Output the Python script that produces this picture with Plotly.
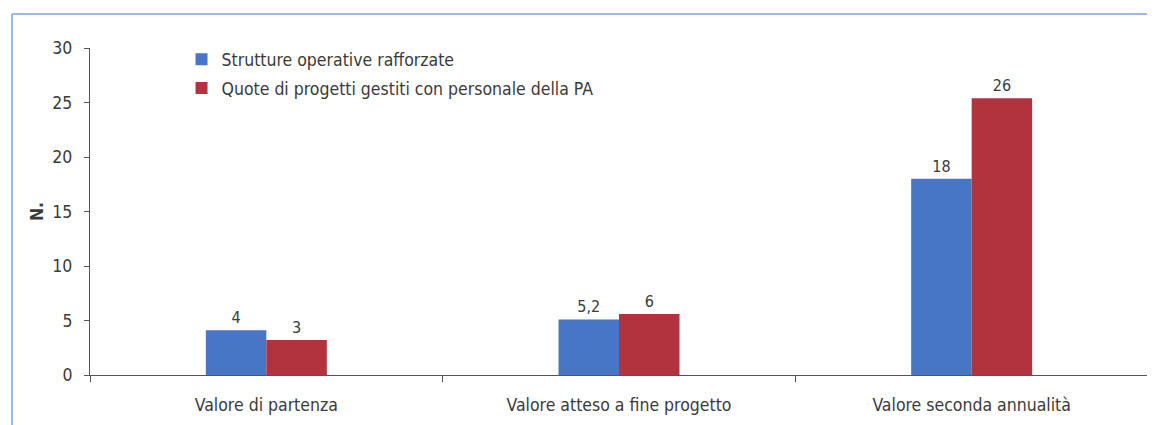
import plotly.graph_objects as go

categories = ["Valore di partenza", "Valore atteso a fine progetto", "Valore seconda annualità"]
series_names = ["Strutture operative rafforzate", "Quote di progetti gestiti con personale della PA"]
strutture = [4.1, 5.1, 18.0]
strutture_labels = ["4", "5,2", "18"]
quote = [3.2, 5.6, 25.4]
quote_labels = ["3", "6", "26"]
y_ticks = [0, 5, 10, 15, 20, 25, 30]

FONT = "DejaVu Sans Condensed, Roboto, sans-serif"
TXT = "#3a3a3a"
BLUE = "#4776C6"
RED = "#B2323D"
FS = 17.5

fig = go.Figure()
fig.add_trace(go.Bar(
    x=categories, y=strutture, name=series_names[0], marker_color=BLUE,
    marker_line_width=0, text=strutture_labels, textposition="outside",
    textfont=dict(family=FONT, size=16, color=TXT), cliponaxis=False,
    legendgroup="a",
))
fig.add_trace(go.Bar(
    x=categories, y=quote, name=series_names[1], marker_color=RED,
    marker_line_width=0, text=quote_labels, textposition="outside",
    textfont=dict(family=FONT, size=16, color=TXT), cliponaxis=False,
    legendgroup="b",
))

fig.update_layout(
    width=1147, height=417,
    margin=dict(l=82, r=7, t=40, b=50),
    paper_bgcolor="white", plot_bgcolor="white",
    barmode="group", bargap=0.657, bargroupgap=0,
    font=dict(family=FONT, size=FS, color=TXT),
    showlegend=True,
    legend=dict(x=0.0865, y=1.02, xanchor="left", yanchor="top",
                bgcolor="rgba(0,0,0,0)", font=dict(family=FONT, size=FS, color=TXT),
                tracegroupgap=3, itemwidth=30),
    xaxis=dict(showline=True, linecolor="#555", linewidth=1.2,
               ticks="outside", tickson="boundaries", ticklen=6, tickcolor="#555",
               showgrid=False, ticklabelstandoff=14,
               tickfont=dict(family=FONT, size=FS, color=TXT)),
    yaxis=dict(range=[0, 30], tickvals=y_ticks, showline=True, linecolor="#555",
               linewidth=1.2, ticks="outside", ticklen=5, tickcolor="#555",
               showgrid=False, zeroline=False, ticklabelstandoff=8,
               tickfont=dict(family=FONT, size=FS, color=TXT),
               title=dict(text="<b>N.</b>", font=dict(family=FONT, size=FS, color=TXT), standoff=4)),
)

# frame lines of the original page box
fig.add_shape(type="line", xref="paper", yref="paper", x0=-0.0737, x1=1.01, y0=1.104, y1=1.104,
              line=dict(color="#9DBBE0", width=2))
fig.add_shape(type="line", xref="paper", yref="paper", x0=-0.0737, x1=-0.0737, y0=1.104, y1=-0.16,
              line=dict(color="#9DBBE0", width=2))

fig.write_html("out.html")
